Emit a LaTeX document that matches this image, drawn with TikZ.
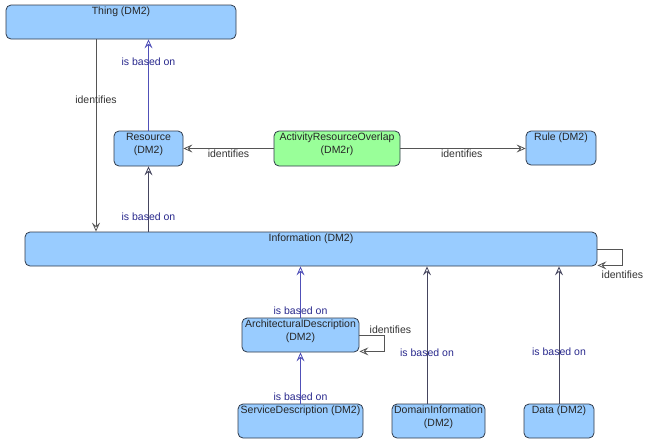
\documentclass[tikz,border=0pt]{standalone}
\usepackage{fontspec}
\setmainfont{Liberation Sans}
\usetikzlibrary{arrows.meta, positioning}

\definecolor{boxblue}{HTML}{99CCFF}
\definecolor{boxgreen}{HTML}{99FF99}
\definecolor{boxline}{HTML}{2F3A4A}
\definecolor{basedline}{HTML}{5050B8}
\definecolor{basedgray}{HTML}{45455E}
\definecolor{basedtext}{HTML}{28288C}
\definecolor{idline}{HTML}{555555}

% box text sits at the top of a fixed size box
\newcommand{\boxtext}[3]{\parbox[c][#2][t]{#1}{\centering\vspace{2pt}#3}}

\begin{document}
\begin{tikzpicture}[x=1pt,y=-1pt,>={Stealth[open,length=9pt,width=8pt,inset=3.5pt]},
        font=\fontsize{10.5}{13}\selectfont,
        entity/.style={draw=boxline,fill=boxblue,rounded corners=5pt,inner sep=0pt,line width=0.8pt,text=black!85},
        based/.style={draw=basedline,line width=0.8pt},
        basedg/.style={draw=basedgray,line width=0.8pt},
        ident/.style={draw=idline,line width=0.8pt},
        basedlbl/.style={text=basedtext,inner sep=1pt},
        identlbl/.style={text=black!80,inner sep=1pt}]

    \useasboundingbox (0,0) rectangle (645,445);

    \node[entity] (thing) at (121,22) {\boxtext{230pt}{34pt}{Thing (DM2)}};
    \node[entity] (res) at (148.5,148.5) {\boxtext{69pt}{35pt}{Resource\\(DM2)}};
    \node[entity,fill=boxgreen] (aro) at (337,148.5) {\boxtext{126pt}{35pt}{ActivityResourceOverlap\\(DM2r)}};
    \node[entity] (rule) at (561,148) {\boxtext{70pt}{34pt}{Rule (DM2)}};
    \node[entity] (info) at (311,249) {\boxtext{572pt}{34pt}{Information (DM2)}};
    \node[entity] (arch) at (300.5,335) {\boxtext{117pt}{34pt}{ArchitecturalDescription\\(DM2)}};
    \node[entity] (serv) at (300.5,421) {\boxtext{125pt}{34pt}{ServiceDescription (DM2)}};
    \node[entity] (dom) at (438.5,421) {\boxtext{93pt}{34pt}{DomainInformation\\(DM2)}};
    \node[entity] (data) at (559,421) {\boxtext{70pt}{34pt}{Data (DM2)}};

    \coordinate (idx) at (96,0);
    \coordinate (domx) at (427,0);

    % identifies
    \draw[ident,->] (idx |- thing.south) -- node[pos=0.316,identlbl] {identifies} (idx |- info.north);
    \draw[ident,->] (aro.west) -- node[pos=0.5,below,identlbl] {identifies} (aro -| res.east);
    \draw[ident,->] (aro.east) -- node[pos=0.49,below,identlbl] {identifies} (aro -| rule.west);
    \draw[ident,->] (info.east) -- ++(25,0) |- node[pos=0.5,below=4pt,identlbl] {identifies} ([yshift=1pt]info.south east);
    \draw[ident,->] (arch.east) -- ++(25,0) node[above,xshift=6pt,identlbl] {identifies} |- ([yshift=1pt]arch.south east);

    % is based on
    \draw[based,->] (res.north) -- node[pos=0.75,basedlbl] {is based on} (res.north |- thing.south);
    \draw[basedg,->] (res |- info.north) -- node[pos=0.23,basedlbl] {is based on} (res.south);
    \draw[based,->] (arch.north) -- node[pos=0.13,basedlbl] {is based on} (arch |- info.south);
    \draw[based,->] (serv.north) -- node[pos=0.13,basedlbl] {is based on} (arch.south);
    \draw[basedg,->] (domx |- dom.north) -- node[pos=0.37,basedlbl] {is based on} (domx |- info.south);
    \draw[basedg,->] (data.north) -- node[pos=0.38,basedlbl] {is based on} (data |- info.south);
\end{tikzpicture}
\end{document}
